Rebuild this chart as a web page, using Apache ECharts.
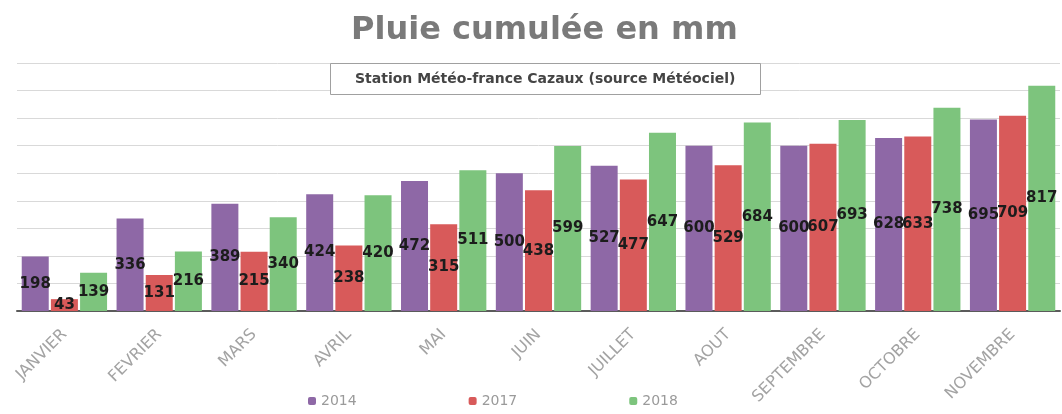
<!DOCTYPE html>
<html>
<head>
<meta charset="utf-8">
<script src="https://cdn.jsdelivr.net/npm/echarts@6/dist/echarts.min.js"></script>
<style>
html,body{margin:0;padding:0;background:#fff;}
#chart{width:1062px;height:414px;}
</style>
</head>
<body>
<div id="chart"></div>
<script>
var mois=['JANVIER','FEVRIER','MARS','AVRIL','MAI','JUIN','JUILLET','AOUT','SEPTEMBRE','OCTOBRE','NOVEMBRE'];
var pluie2014=[198,336,389,424,472,500,527,600,600,628,695];
var pluie2017=[43,131,215,238,315,438,477,529,607,633,709];
var pluie2018=[139,216,340,420,511,599,647,684,693,738,817];

var police='"DejaVu Sans", Lato, sans-serif';

function serie(nom,data,couleur){
  return {
    name:nom,
    type:'bar',
    data:data,
    barGap:'8%',
    barCategoryGap:'10%',
    itemStyle:{color:couleur},
    label:{
      show:true,
      position:'inside',
      color:'#1c1c1c',
      fontFamily:police,
      fontWeight:'bold',
      fontSize:15
    }
  };
}

var myChart=echarts.init(document.getElementById('chart'));
var option={
  animation:false,
  title:[{
    text:'Pluie cumulée en mm',
    left:346,
    top:10,
    textStyle:{color:'#7a7a7a',fontFamily:police,fontWeight:'bold',fontSize:32}
  },{
    text:'Station Météo-france Cazaux (source Météociel)',
    left:330,
    top:63,
    padding:[9,25,9,25],
    backgroundColor:'#fff',
    borderColor:'#a0a0a0',
    borderWidth:1,
    textStyle:{color:'#444',fontFamily:police,fontWeight:'bold',fontSize:14}
  }],
  legend:{
    left:303,
    top:389,
    itemWidth:8,
    itemHeight:8,
    itemGap:112,
    textStyle:{color:'#9a9a9a',fontFamily:police,fontSize:14},
    data:['2014','2017','2018']
  },
  grid:{left:17,right:2,top:63,bottom:103},
  xAxis:{
    type:'category',
    data:mois,
    axisLine:{lineStyle:{color:'#5b5b5b',width:2}},
    axisTick:{show:false},
    axisLabel:{
      rotate:45,
      interval:0,
      margin:21,
      color:'#a3a3a3',
      fontFamily:police,
      fontSize:16
    }
  },
  yAxis:{
    type:'value',
    min:0,
    max:900,
    interval:100,
    axisLabel:{show:false},
    axisLine:{show:false},
    axisTick:{show:false},
    splitLine:{lineStyle:{color:'#d9d9d9'}}
  },
  series:[
    serie('2014',pluie2014,'#8e68a6'),
    serie('2017',pluie2017,'#d85a5a'),
    serie('2018',pluie2018,'#7dc47d')
  ]
};
myChart.setOption(option);
</script>
</body>
</html>
